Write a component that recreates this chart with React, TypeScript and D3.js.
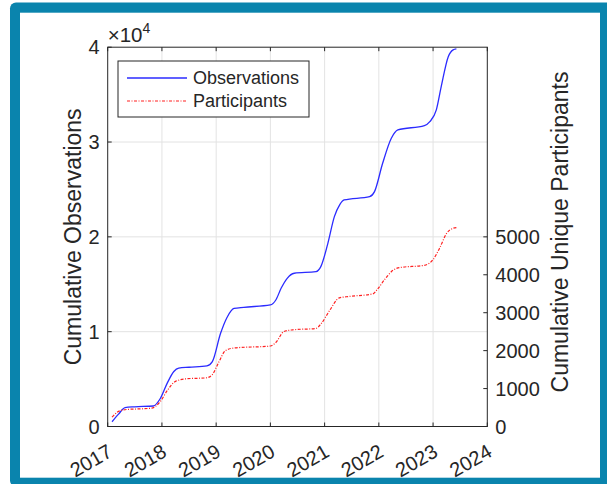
import React from "react";
import * as d3 from "d3";

const obsYears = [2017.08, 2017.2, 2017.32, 2017.5, 2017.84, 2017.97, 2018.1, 2018.22, 2018.31, 2018.5, 2018.83, 2018.93, 2019.08, 2019.2, 2019.33, 2019.51, 2020.0, 2020.1, 2020.2, 2020.31, 2020.44, 2020.84, 2020.93, 2021.06, 2021.18, 2021.28, 2021.36, 2021.83, 2021.92, 2022.07, 2022.23, 2022.35, 2022.84, 2022.94, 2023.06, 2023.15, 2023.28, 2023.37, 2023.43];
const obsValues = [500, 1300, 2000, 2080, 2160, 2950, 4600, 5800, 6150, 6250, 6400, 6850, 9800, 11500, 12450, 12570, 12820, 13340, 14600, 15630, 16160, 16330, 16860, 19320, 22130, 23400, 23890, 24240, 24770, 27760, 30400, 31280, 31730, 32150, 33390, 35840, 39000, 39720, 39820];

const partYears = [2017.08, 2017.18, 2017.29, 2017.81, 2017.97, 2018.1, 2018.25, 2018.43, 2018.83, 2018.93, 2019.05, 2019.17, 2019.33, 2020.0, 2020.1, 2020.25, 2020.41, 2020.84, 2020.93, 2021.09, 2021.27, 2021.4, 2021.89, 2021.98, 2022.12, 2022.26, 2022.38, 2022.84, 2023.0, 2023.12, 2023.25, 2023.37, 2023.43];
const partValues = [245, 380, 440, 485, 660, 950, 1190, 1255, 1285, 1370, 1700, 2000, 2070, 2122, 2213, 2505, 2548, 2585, 2700, 3053, 3390, 3420, 3497, 3630, 3900, 4117, 4189, 4250, 4400, 4700, 5093, 5226, 5245];

const xTicks = [2017, 2018, 2019, 2020, 2021, 2022, 2023, 2024];
const leftTicks = [0, 10000, 20000, 30000, 40000];
const rightTicks = [0, 1000, 2000, 3000, 4000, 5000];
const seriesNames = ["Observations", "Participants"];

const W = 607, H = 484;
const L = 107.7, R = 487.3, T = 47.2, B = 426.5;
const FONT = "'Liberation Sans', Arial, Helvetica, sans-serif";
const INK = "#262626";

export default function App() {
  const x = d3.scaleLinear().domain([2017, 2024]).range([L, R]);
  const yL = d3.scaleLinear().domain([0, 40000]).range([B, T]);
  const yR = d3.scaleLinear().domain([0, 10000]).range([B, T]);

  const obsLine = d3.line<number>().x((_, i) => x(obsYears[i])).y((d) => yL(d)).curve(d3.curveMonotoneX);
  const partLine = d3.line<number>().x((_, i) => x(partYears[i])).y((d) => yR(d)).curve(d3.curveMonotoneX);

  return (
    <svg width={W} height={H} style={{ position: "absolute", left: 0, top: 0 }} fontFamily={FONT}>
      <rect x={10} y={2.5} width={W} height={H} rx={6} fill="#0a84ad" />
      <rect x={20} y={12.7} width={580} height={465} fill="#ffffff" />

      {/* grid */}
      {xTicks.slice(1, -1).map((t) => (
        <line key={"gx" + t} x1={x(t)} x2={x(t)} y1={T} y2={B} stroke="#e3e3e3" strokeWidth={1} />
      ))}
      {leftTicks.slice(1, -1).map((t) => (
        <line key={"gy" + t} x1={L} x2={R} y1={yL(t)} y2={yL(t)} stroke="#e3e3e3" strokeWidth={1} />
      ))}

      {/* lines */}
      <path d={obsLine(obsValues) || ""} fill="none" stroke="#2b2bff" strokeWidth={1.3} />
      <path d={partLine(partValues) || ""} fill="none" stroke="#ff2020" strokeWidth={1.2} strokeDasharray="3,1.5,1,1.5" />

      {/* box */}
      <rect x={L} y={T} width={R - L} height={B - T} fill="none" stroke={INK} strokeWidth={1} />

      {/* x ticks */}
      {xTicks.map((t) => (
        <g key={"xt" + t}>
          <line x1={x(t)} x2={x(t)} y1={B} y2={B - 4} stroke={INK} />
          <line x1={x(t)} x2={x(t)} y1={T} y2={T + 4} stroke={INK} />
          <text
            transform={`translate(${x(t) + 6},${B + 29}) rotate(-30)`}
            textAnchor="end"
            fontSize={20}
            fill={INK}
          >
            {t}
          </text>
        </g>
      ))}

      {/* left ticks */}
      {leftTicks.map((t) => (
        <g key={"yl" + t}>
          <line x1={L} x2={L + 4} y1={yL(t)} y2={yL(t)} stroke={INK} />
          <text x={L - 8} y={yL(t)} dy="0.36em" textAnchor="end" fontSize={20} fill={INK}>
            {t / 10000}
          </text>
        </g>
      ))}
      <text x={L} y={T - 5} fontSize={20.5} fill={INK}>
        ×10
        <tspan fontSize={14} dy={-9}>4</tspan>
      </text>

      {/* right ticks */}
      {rightTicks.map((t) => (
        <g key={"yr" + t}>
          <line x1={R} x2={R - 4} y1={yR(t)} y2={yR(t)} stroke={INK} />
          <text x={R + 8} y={yR(t)} dy="0.36em" textAnchor="start" fontSize={20} fill={INK}>
            {t}
          </text>
        </g>
      ))}

      {/* axis labels */}
      <text transform={`translate(81,${(T + B) / 2}) rotate(-90)`} textAnchor="middle" fontSize={23} fill={INK}>
        Cumulative Observations
      </text>
      <text transform={`translate(568,232) rotate(-90)`} textAnchor="middle" fontSize={23} fill={INK}>
        Cumulative Unique Participants
      </text>

      {/* legend */}
      <rect x={118} y={61} width={191} height={56} fill="#ffffff" stroke={INK} strokeWidth={1} />
      <line x1={127} x2={187} y1={78} y2={78} stroke="#2b2bff" strokeWidth={1.3} />
      <line x1={127} x2={187} y1={101} y2={101} stroke="#ff2020" strokeWidth={1.2} strokeDasharray="3,1.5,1,1.5" />
      <text x={193} y={78} dy="0.36em" fontSize={18} fill={INK}>{seriesNames[0]}</text>
      <text x={193} y={101} dy="0.36em" fontSize={18} fill={INK}>{seriesNames[1]}</text>
    </svg>
  );
}
